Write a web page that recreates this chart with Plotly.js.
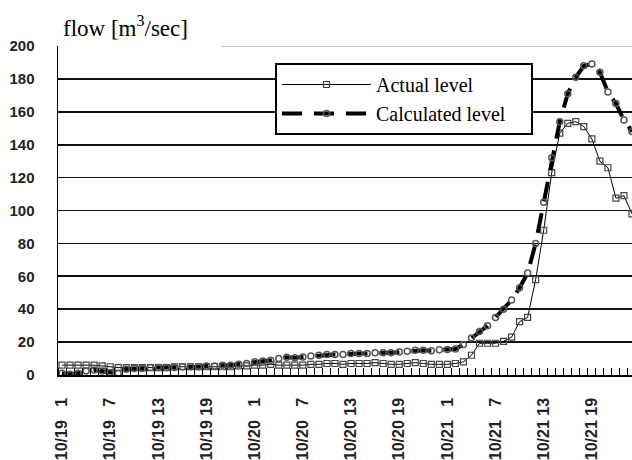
<!DOCTYPE html>
<html>
<head>
<meta charset="utf-8">
<script src="https://cdn.plot.ly/plotly-3.0.1.min.js"></script>
<style>
html,body{margin:0;padding:0;background:#fff;}
#chart{width:632px;height:460px;}
</style>
</head>
<body>
<div id="chart"></div>
<script>
// hourly categories 10/19 1h ... 10/21 24h
const days = ["10/19", "10/20", "10/21"];
const hoursPerDay = 24;
const categories = [];
days.forEach(d => { for (let h = 1; h <= hoursPerDay; h++) categories.push(d + " " + h); });

// tick labels (every 6 hours)
const tickLabels = [
  "10/19\u00a0\u00a0\u00a01", "10/19\u00a0\u00a0\u00a07", "10/19\u00a013", "10/19\u00a019",
  "10/20\u00a0\u00a0\u00a01", "10/20\u00a0\u00a0\u00a07", "10/20\u00a013", "10/20\u00a019",
  "10/21\u00a0\u00a0\u00a01", "10/21\u00a0\u00a0\u00a07", "10/21\u00a013", "10/21\u00a019"
];
const tickCategories = [
  "10/19 1", "10/19 7", "10/19 13", "10/19 19",
  "10/20 1", "10/20 7", "10/20 13", "10/20 19",
  "10/21 1", "10/21 7", "10/21 13", "10/21 19"
];

// Actual level [m3/sec]
const actualLevel = [
  6, 6, 6, 6, 6, 5.5, 5, 4.5,
  4.5, 4.5, 4.5, 4.5, 4.5, 4.5, 5, 5, 5, 5, 5, 5, 5, 5, 5.5, 5.5,
  6, 6, 6.5, 6, 6, 6,
  6, 6.5, 6.5, 7, 7, 6.5, 7, 7, 7, 7.5, 7, 6.5, 6.5, 7, 7.5, 7, 6.5, 6.5, 6.5, 7,
  8, 12, 19.3, 19.3, 19.3, 20.5, 23, 32.4, 35, 58, 88, 123, 147, 153, 154, 151, 143.5, 130, 126, 107.5, 109, 98
];

// Calculated level [m3/sec]
const calculatedLevel = [
  1, 0.5, 1, 2.5, 3, 2.5, 1.5, 1,
  3.5, 4, 4, 4.5, 4.5, 4.5, 4.5, 5, 5, 5, 5.5, 5.5, 6, 6, 6.5, 7,
  8, 8.5, 9, 10, 10.8, 10.5,
  11, 11.5, 12, 12.5, 12.5, 12.5, 13, 13, 13, 13.5, 13.5, 13.5, 14, 14.5, 15, 15, 14.8, 15.3, 15.5, 15.8,
  18.5, 22.5, 26.5, 30, 35, 40, 45.6, 53, 62, 80, 105, 132, 154, 171, 181, 188, 189, 184, 172, 165, 155, 148
];

const yTicks = [0, 20, 40, 60, 80, 100, 120, 140, 160, 180, 200];

const xIndex = categories.map((c, i) => i);
const tickVals = tickCategories.map(c => categories.indexOf(c));

const serif = '"Liberation Serif","Times New Roman",Times,serif';
const sans = '"Liberation Sans",Arial,Helvetica,sans-serif';

const traces = [
  {
    name: "Actual level",
    x: xIndex, y: actualLevel,
    type: "scatter", mode: "lines+markers",
    line: {color: "#000", width: 1},
    marker: {symbol: "square-open", size: 6, color: "#444", line: {width: 1.2}}
  },
  {
    name: "Calculated level\u00a0\u00a0\u00a0\u00a0",
    x: xIndex, y: calculatedLevel,
    type: "scatter", mode: "lines+markers",
    line: {color: "#000", width: 4, dash: "20px,12px"},
    marker: {symbol: "circle-open", size: 6, color: "#555", line: {width: 1.5}}
  }
];

const layout = {
  width: 632, height: 460,
  margin: {l: 58, r: 0, t: 46, b: 85, pad: 0},
  paper_bgcolor: "#fff", plot_bgcolor: "#fff",
  showlegend: true,
  hovermode: false,
  title: {
    text: "flow [m<sup>3</sup>/sec]",
    font: {family: serif, size: 23, color: "#000"},
    xref: "container", x: 63 / 632, xanchor: "left",
    yref: "container", y: 1 - 28 / 460, yanchor: "middle"
  },
  xaxis: {
    type: "linear",
    range: [-0.5, 71],
    tickmode: "array", tickvals: tickVals, ticktext: tickLabels,
    tickangle: -90, ticks: "",
    showline: true, linecolor: "#000", linewidth: 1.5,
    showgrid: false, zeroline: false,
    tickfont: {family: sans, size: 16, color: "#222", weight: "bold"},
    ticklabelstandoff: 15,
    minor: {tickmode: "linear", tick0: -0.5, dtick: 1, ticks: "inside", ticklen: 7, tickwidth: 1, tickcolor: "#000", showgrid: false}
  },
  yaxis: {
    range: [0, 200],
    tickmode: "array", tickvals: yTicks,
    ticks: "",
    showline: true, linecolor: "#000", linewidth: 1.5,
    showgrid: true, gridcolor: "#111", gridwidth: 1.6,
    zeroline: false,
    tickfont: {family: sans, size: 15, color: "#222", weight: "bold"},
    ticklabelstandoff: 19
  },
  legend: {
    x: (275 - 58) / 574, xanchor: "left",
    y: (375 - 63) / 329, yanchor: "top",
    bgcolor: "#fff", bordercolor: "#000", borderwidth: 2,
    font: {family: serif, size: 20, color: "#000"},
    itemwidth: 89,
    tracegroupgap: 0
  },
  shapes: [
    {type: "line", xref: "paper", yref: "y", x0: 0.002, x1: 1, y0: 200, y1: 200, line: {color: "#fff", width: 3}, layer: "between"},
    {type: "line", xref: "paper", yref: "y", x0: (221 - 58) / 574, x1: 1, y0: 200, y1: 200, line: {color: "#999", width: 1}, layer: "between"}
  ]
};

Plotly.newPlot("chart", traces, layout, {displayModeBar: false, staticPlot: true});
</script>
</body>
</html>
